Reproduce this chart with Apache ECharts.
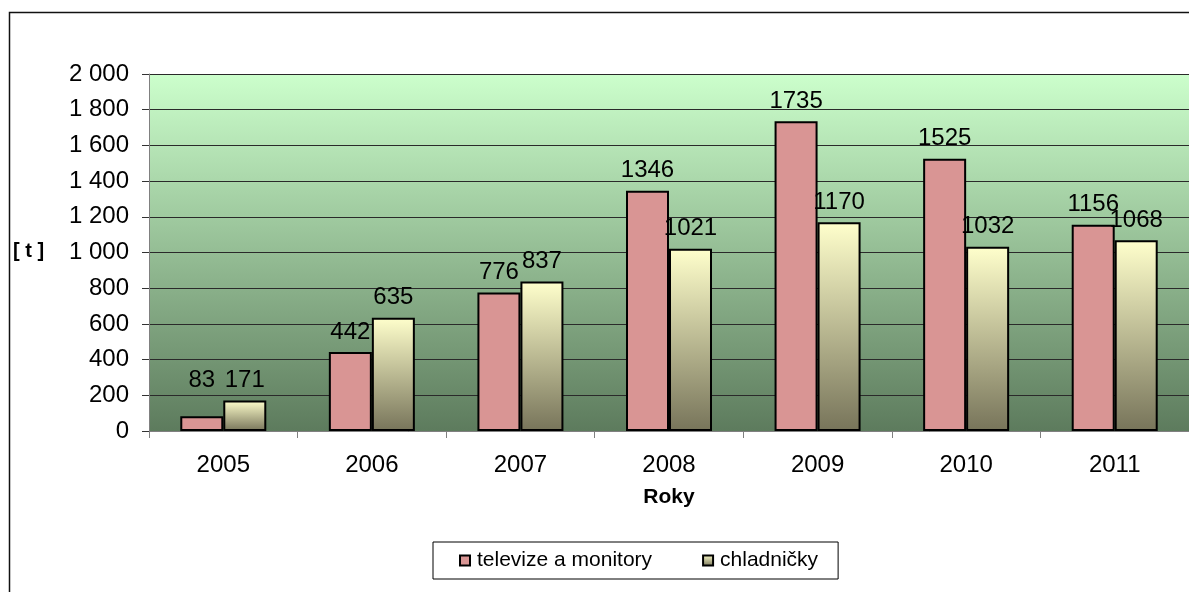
<!DOCTYPE html>
<html>
<head>
<meta charset="utf-8">
<script src="https://cdn.jsdelivr.net/npm/echarts@6/dist/echarts.min.js"></script>
<style>
html,body{margin:0;padding:0;background:#fff;}
#chart{width:1189px;height:592px;}
</style>
</head>
<body>
<div id="chart"></div>
<script>
const categories = ['2005','2006','2007','2008','2009','2010','2011'];
const seriesNames = ['televize a monitory','chladničky'];
const tvMonitors = [83, 442, 776, 1346, 1735, 1525, 1156];
const fridges = [171, 635, 837, 1021, 1170, 1032, 1068];
const yTicks = [0, 200, 400, 600, 800, 1000, 1200, 1400, 1600, 1800, 2000];
const yUnit = '[ t ]';
const xTitle = 'Roky';

const FONT = '"Liberation Sans", Arial, sans-serif';
const chart = echarts.init(document.getElementById('chart'), null, {renderer:'canvas'});

function fmtThousands(v){
  return String(v).replace(/\B(?=(\d{3})+(?!\d))/g, ' ');
}

const yellowGrad = new echarts.graphic.LinearGradient(0,0,0,1,[
  {offset:0,color:'#ffffcc'},{offset:1,color:'#77745a'}
]);

const labelCommon = {
  show:true, position:'top', distance:8,
  fontFamily:FONT, fontSize:24, color:'#000'
};

// first TV label sits higher in the reference (placed to clear the neighbour label)
const tvData = tvMonitors.map(function(v, i){
  return i === 0 ? {value:v, label:{offset:[0,-16]}} : v;
});

const option = {
  animation:false,
  backgroundColor:'#fff',
  graphic:[
    {type:'rect', z:-10, shape:{x:9.5,y:12.5,width:1300,height:700},
     style:{fill:'#fff',stroke:'#111',lineWidth:1.5}},
    {type:'text', left:13, top:241, z:10,
     style:{text:yUnit, font:'bold 20px '+FONT, fill:'#000'}}
  ],
  grid:{
    left:149, top:74, width:1045, height:357,
    show:true, borderWidth:0,
    backgroundColor:new echarts.graphic.LinearGradient(0,0,0,1,[
      {offset:0,color:'#ccffcc'},{offset:1,color:'#5d7b5d'}
    ])
  },
  legend:{
    data:seriesNames,
    left:433, top:542,
    orient:'horizontal',
    borderColor:'#000', borderWidth:1,
    padding:[8,20,8,26],
    itemGap:50,
    itemWidth:10, itemHeight:10,
    icon:'rect',
    textStyle:{fontFamily:FONT, fontSize:21, color:'#000', padding:[0,0,0,2]}
  },
  xAxis:{
    type:'category',
    data:categories,
    name:xTitle,
    nameLocation:'middle',
    nameGap:56,
    nameTextStyle:{fontFamily:FONT, fontSize:21, fontWeight:'bold', color:'#000'},
    axisLine:{show:true, lineStyle:{color:'#808080', width:1}},
    axisTick:{show:true, length:7, lineStyle:{color:'#808080'}},
    axisLabel:{fontFamily:FONT, fontSize:24, color:'#000', margin:22},
    splitLine:{show:false}
  },
  yAxis:{
    type:'value',
    min:yTicks[0], max:yTicks[yTicks.length-1], interval:yTicks[1]-yTicks[0],
    axisLine:{show:true, lineStyle:{color:'#808080', width:1}},
    axisTick:{show:true, length:7, lineStyle:{color:'#333'}},
    axisLabel:{fontFamily:FONT, fontSize:24, color:'#000', margin:20,
      formatter:fmtThousands},
    splitLine:{show:true, lineStyle:{color:'#2a2a2a', width:1}}
  },
  series:[
    {
      name:seriesNames[0], type:'bar', data:tvData,
      barWidth:43, barGap:'0%',
      itemStyle:{color:'#d99594', borderColor:'#000', borderWidth:2},
      label:labelCommon
    },
    {
      name:seriesNames[1], type:'bar', data:fridges,
      barWidth:43, barGap:'0%',
      itemStyle:{color:yellowGrad, borderColor:'#000', borderWidth:2},
      label:labelCommon
    }
  ]
};
chart.setOption(option);
</script>
</body>
</html>
